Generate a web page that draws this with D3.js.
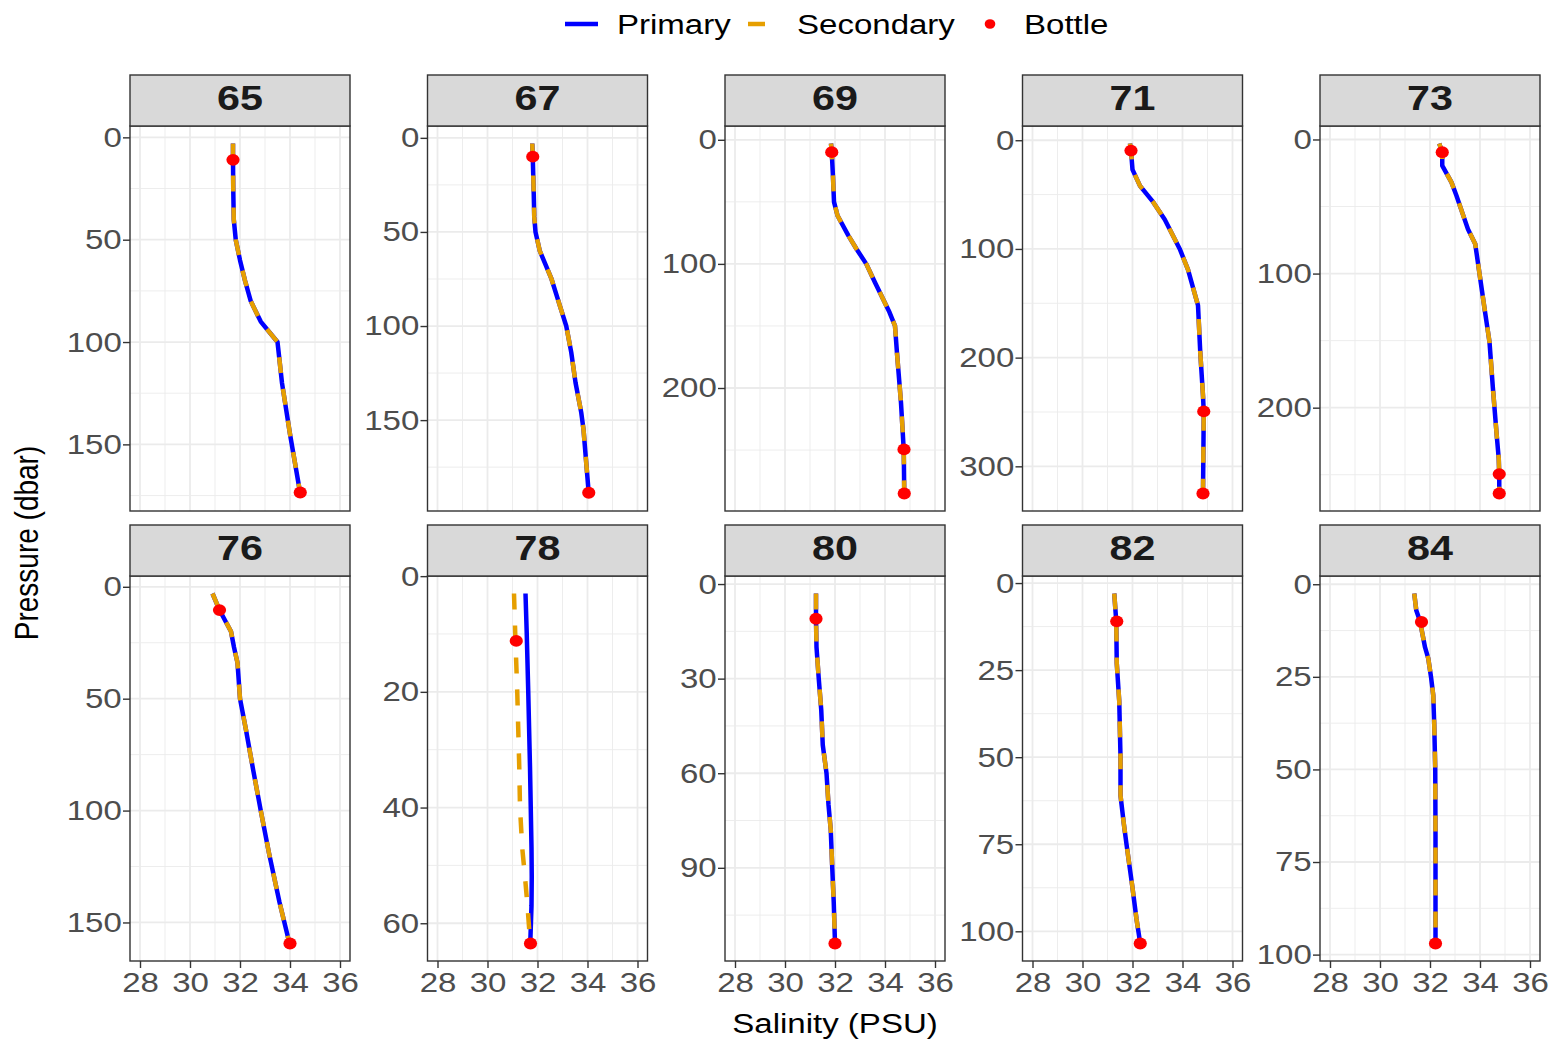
<!DOCTYPE html>
<html>
<head>
<meta charset="utf-8">
<script src="https://cdn.jsdelivr.net/npm/d3@7"></script>
<style>
  body { margin: 0; background: #ffffff; }
  svg { display: block; }
  text { font-family: "Liberation Sans", Arial, Helvetica, sans-serif; }
</style>
</head>
<body>
<svg id="chart" width="1554" height="1043"></svg>
<script>
// ---- CTD salinity profiles by cast: primary / secondary sensors and bottle samples ----
const casts = ["65", "67", "69", "71", "73", "76", "78", "80", "82", "84"];

// pressure levels (dbar) of each profile
const pressure = [
  [3, 11, 25, 40, 50, 60, 70, 80, 90, 100, 120, 145, 174],
  [3, 10, 30, 42, 50, 60, 75, 89, 100, 114, 130, 146, 155, 189],
  [3, 10, 30, 50, 61, 77, 88, 100, 115, 139, 150, 172, 212, 250, 285],
  [3, 9.5, 27, 42, 57, 73, 100, 119, 143, 152, 195, 235, 250, 325],
  [3, 9.5, 19.5, 32, 42, 54, 67, 78, 100, 126, 151, 184, 221, 238, 250, 264],
  [3, 10.4, 20, 27, 34, 50, 64, 82, 100, 119, 141, 159.4],
  [3, 10, 20, 33, 40, 47, 52, 57, 63.5],
  [3, 11, 20, 30, 40, 51, 60, 70, 78, 90, 101, 114],
  [3, 11, 23, 34, 50, 61, 69, 75, 87, 96.5, 103.5],
  [2.5, 7, 10, 17, 20, 25, 30, 38, 50, 68, 97]
];

// primary sensor salinity (PSU) at those levels
const primarySalinity = [
  [31.72, 31.72, 31.73, 31.75, 31.83, 32.00, 32.20, 32.43, 32.83, 33.50, 33.68, 34.00, 34.41],
  [31.79, 31.81, 31.85, 31.87, 31.92, 32.09, 32.56, 32.89, 33.15, 33.35, 33.52, 33.75, 33.84, 34.05],
  [31.84, 31.87, 31.92, 31.96, 32.10, 32.53, 32.86, 33.25, 33.60, 34.18, 34.40, 34.48, 34.64, 34.75, 34.77],
  [31.90, 31.94, 32.00, 32.30, 32.83, 33.29, 33.89, 34.22, 34.51, 34.62, 34.71, 34.82, 34.85, 34.82],
  [32.37, 32.49, 32.49, 32.86, 33.06, 33.28, 33.52, 33.81, 33.98, 34.18, 34.38, 34.51, 34.67, 34.75, 34.77, 34.77],
  [30.90, 31.18, 31.64, 31.76, 31.90, 32.00, 32.24, 32.53, 32.83, 33.16, 33.58, 33.98],
  [31.52, 31.57, 31.63, 31.70, 31.73, 31.76, 31.77, 31.76, 31.71],
  [31.24, 31.24, 31.26, 31.35, 31.45, 31.51, 31.66, 31.74, 31.83, 31.89, 31.95, 32.00],
  [31.27, 31.35, 31.37, 31.47, 31.52, 31.52, 31.65, 31.76, 31.99, 32.16, 32.31],
  [31.37, 31.45, 31.60, 31.80, 31.93, 32.04, 32.13, 32.17, 32.21, 32.22, 32.22]
];

// secondary sensor salinity (PSU) at those levels
const secondarySalinity = [
  [31.72, 31.72, 31.73, 31.75, 31.83, 32.00, 32.20, 32.43, 32.83, 33.50, 33.68, 34.00, 34.41],
  [31.79, 31.81, 31.85, 31.87, 31.92, 32.09, 32.56, 32.89, 33.15, 33.35, 33.52, 33.75, 33.84, 34.05],
  [31.84, 31.87, 31.92, 31.96, 32.10, 32.53, 32.86, 33.25, 33.60, 34.18, 34.40, 34.48, 34.64, 34.75, 34.77],
  [31.90, 31.94, 32.00, 32.30, 32.83, 33.29, 33.89, 34.22, 34.51, 34.62, 34.71, 34.82, 34.85, 34.82],
  [32.37, 32.49, 32.49, 32.86, 33.06, 33.28, 33.52, 33.81, 33.98, 34.18, 34.38, 34.51, 34.67, 34.75, 34.77, 34.77],
  [30.90, 31.18, 31.64, 31.76, 31.90, 32.00, 32.24, 32.53, 32.83, 33.16, 33.58, 33.98],
  [31.06, 31.11, 31.19, 31.27, 31.30, 31.39, 31.50, 31.60, 31.71],
  [31.24, 31.24, 31.26, 31.35, 31.45, 31.51, 31.66, 31.74, 31.83, 31.89, 31.95, 32.00],
  [31.27, 31.35, 31.37, 31.47, 31.52, 31.52, 31.65, 31.76, 31.99, 32.16, 32.31],
  [31.37, 31.45, 31.60, 31.80, 31.93, 32.04, 32.13, 32.17, 32.21, 32.22, 32.22]
];

// bottle samples: pressure (dbar) and salinity (PSU)
const bottlePressure = [
  [11, 173.5],
  [10, 188.6],
  [10, 249.5, 285],
  [9.5, 249.5, 325],
  [9.5, 249.5, 264],
  [10.4, 159.4],
  [11.2, 63.5],
  [11, 114],
  [11, 103.5],
  [10.2, 97]
];
const bottleSalinity = [
  [31.72, 34.41],
  [31.81, 34.05],
  [31.87, 34.76, 34.77],
  [31.94, 34.85, 34.82],
  [32.49, 34.77, 34.77],
  [31.18, 34.00],
  [31.15, 31.72],
  [31.24, 32.00],
  [31.37, 32.31],
  [31.66, 32.22]
];

// axis breaks
const xTicks = [28, 30, 32, 34, 36];
const xLimits = [28, 36];
const yTicks = [
  [0, 50, 100, 150],
  [0, 50, 100, 150],
  [0, 100, 200],
  [0, 100, 200, 300],
  [0, 100, 200],
  [0, 50, 100, 150],
  [0, 20, 40, 60],
  [0, 30, 60, 90],
  [0, 25, 50, 75, 100],
  [0, 25, 50, 75, 100]
];

const legendLabels = ["Primary", "Secondary", "Bottle"];
const colors = { primary: "#0000FF", secondary: "#E69F00", bottle: "#FF0000" };

// ---- layout ----
const textStretch = 1.18;           // horizontal glyph stretch
const panelW = 220, panelH = 385, stripH = 51;
const colLeft0 = 130, colPitch = 297.5;
const rowTop0 = 126, rowPitch = 450;
const tickFont = 28, titleFont = 28, stripFont = 35;
const lineW = 4.5;

const svg = d3.select("#chart");

function expand(ext, f) {
  const d = ext[1] - ext[0];
  return [ext[0] - f * d, ext[1] + f * d];
}
function minorBreaks(major, dom) {
  const step = major[1] - major[0];
  const ext = [major[0] - step].concat(major, [major[major.length - 1] + step]);
  const out = [];
  for (let i = 0; i < ext.length - 1; i++) {
    const m = (ext[i] + ext[i + 1]) / 2;
    if (m >= Math.min(dom[0], dom[1]) && m <= Math.max(dom[0], dom[1])) out.push(m);
  }
  return out;
}

const xDomain = expand(xLimits, 0.05);
const xMinor = minorBreaks(xTicks, xDomain);

casts.forEach((cast, i) => {
  const col = i % 5, row = Math.floor(i / 5);
  const left = colLeft0 + col * colPitch;
  const top = rowTop0 + row * rowPitch;
  const g = svg.append("g").attr("transform", `translate(${left},${top})`);

  const x = d3.scaleLinear().domain(xDomain).range([0, panelW]);
  const allP = pressure[i].concat(bottlePressure[i]);
  const yDomain = expand(d3.extent(allP), 0.05);
  const y = d3.scaleLinear().domain(yDomain).range([0, panelH]);

  // panel background
  g.append("rect").attr("width", panelW).attr("height", panelH).attr("fill", "#ffffff");

  // minor grid
  const yMinor = minorBreaks(yTicks[i], yDomain);
  g.selectAll(".ymin").data(yMinor).join("line")
    .attr("x1", 0).attr("x2", panelW).attr("y1", d => y(d)).attr("y2", d => y(d))
    .attr("stroke", "#EBEBEB").attr("stroke-width", 0.9);
  g.selectAll(".xmin").data(xMinor).join("line")
    .attr("y1", 0).attr("y2", panelH).attr("x1", d => x(d)).attr("x2", d => x(d))
    .attr("stroke", "#EBEBEB").attr("stroke-width", 0.9);
  // major grid
  g.selectAll(".ymaj").data(yTicks[i]).join("line")
    .attr("x1", 0).attr("x2", panelW).attr("y1", d => y(d)).attr("y2", d => y(d))
    .attr("stroke", "#EBEBEB").attr("stroke-width", 1.8);
  g.selectAll(".xmaj").data(xTicks).join("line")
    .attr("y1", 0).attr("y2", panelH).attr("x1", d => x(d)).attr("x2", d => x(d))
    .attr("stroke", "#EBEBEB").attr("stroke-width", 1.8);

  // profiles
  const line = d3.line().x(d => x(d[1])).y(d => y(d[0]));
  const prim = pressure[i].map((p, k) => [p, primarySalinity[i][k]]);
  const sec = pressure[i].map((p, k) => [p, secondarySalinity[i][k]]);
  g.append("path").datum(prim).attr("d", line)
    .attr("fill", "none").attr("stroke", colors.primary).attr("stroke-width", lineW)
    .attr("stroke-linejoin", "round");
  g.append("path").datum(sec).attr("d", line)
    .attr("fill", "none").attr("stroke", colors.secondary).attr("stroke-width", lineW)
    .attr("stroke-dasharray", "16,16").attr("stroke-linejoin", "round");

  // bottle samples
  const bottles = bottlePressure[i].map((p, k) => [p, bottleSalinity[i][k]]);
  g.selectAll(".bottle").data(bottles).join("ellipse")
    .attr("cx", d => x(d[1])).attr("cy", d => y(d[0]))
    .attr("rx", 6.6).attr("ry", 5.9).attr("fill", colors.bottle);

  // panel border
  g.append("rect").attr("width", panelW).attr("height", panelH)
    .attr("fill", "none").attr("stroke", "#333333").attr("stroke-width", 1.4);

  // strip
  g.append("rect").attr("x", 0).attr("y", -stripH).attr("width", panelW).attr("height", stripH)
    .attr("fill", "#D9D9D9").attr("stroke", "#333333").attr("stroke-width", 1.4);
  g.append("text")
    .attr("transform", `translate(${panelW / 2},${-stripH + 34.5}) scale(${textStretch},1)`)
    .attr("text-anchor", "middle").attr("font-size", stripFont).attr("font-weight", "bold")
    .attr("fill", "#1A1A1A").text(cast);

  // y axis
  const yAxis = g.append("g").call(
    d3.axisLeft(y).tickValues(yTicks[i]).tickSize(7).tickPadding(0).tickFormat(d3.format("d")));
  yAxis.select(".domain").remove();
  yAxis.selectAll(".tick line").attr("stroke", "#333333").attr("stroke-width", 1.4);
  yAxis.selectAll(".tick text").attr("font-size", tickFont).attr("fill", "#4D4D4D")
    .attr("font-family", "Liberation Sans, Arial, sans-serif")
    .attr("transform", `scale(${textStretch},1)`);

  // x axis on bottom row only
  if (row === 1) {
    const xAxis = g.append("g").attr("transform", `translate(0,${panelH})`).call(
      d3.axisBottom(x).tickValues(xTicks).tickSize(7).tickPadding(4).tickFormat(d3.format("d")));
    xAxis.select(".domain").remove();
    xAxis.selectAll(".tick line").attr("stroke", "#333333").attr("stroke-width", 1.4);
    xAxis.selectAll(".tick text").attr("font-size", tickFont).attr("fill", "#4D4D4D")
      .attr("font-family", "Liberation Sans, Arial, sans-serif")
      .attr("transform", `scale(${textStretch},1)`);
  }
});

// axis titles
svg.append("text")
  .attr("transform", `translate(835,1033) scale(${textStretch},1)`)
  .attr("text-anchor", "middle").attr("font-size", titleFont).attr("fill", "#000000")
  .text("Salinity (PSU)");
svg.append("text")
  .attr("transform", `translate(38,543) scale(${textStretch},1) rotate(-90)`)
  .attr("text-anchor", "middle").attr("font-size", titleFont).attr("fill", "#000000")
  .text("Pressure (dbar)");

// legend
const lg = svg.append("g");
const legendY = 24;
lg.append("line").attr("x1", 565).attr("x2", 598).attr("y1", legendY).attr("y2", legendY)
  .attr("stroke", colors.primary).attr("stroke-width", lineW);
lg.append("line").attr("x1", 748).attr("x2", 781).attr("y1", legendY).attr("y2", legendY)
  .attr("stroke", colors.secondary).attr("stroke-width", lineW).attr("stroke-dasharray", "17,17");
lg.append("ellipse").attr("cx", 990).attr("cy", legendY).attr("rx", 5.3).attr("ry", 4.8)
  .attr("fill", colors.bottle);
const legendTextX = [617, 797, 1024];
legendLabels.forEach((t, k) => {
  lg.append("text")
    .attr("transform", `translate(${legendTextX[k]},${legendY + 10}) scale(${textStretch},1)`)
    .attr("font-size", titleFont).attr("fill", "#000000").text(t);
});
</script>
</body>
</html>
